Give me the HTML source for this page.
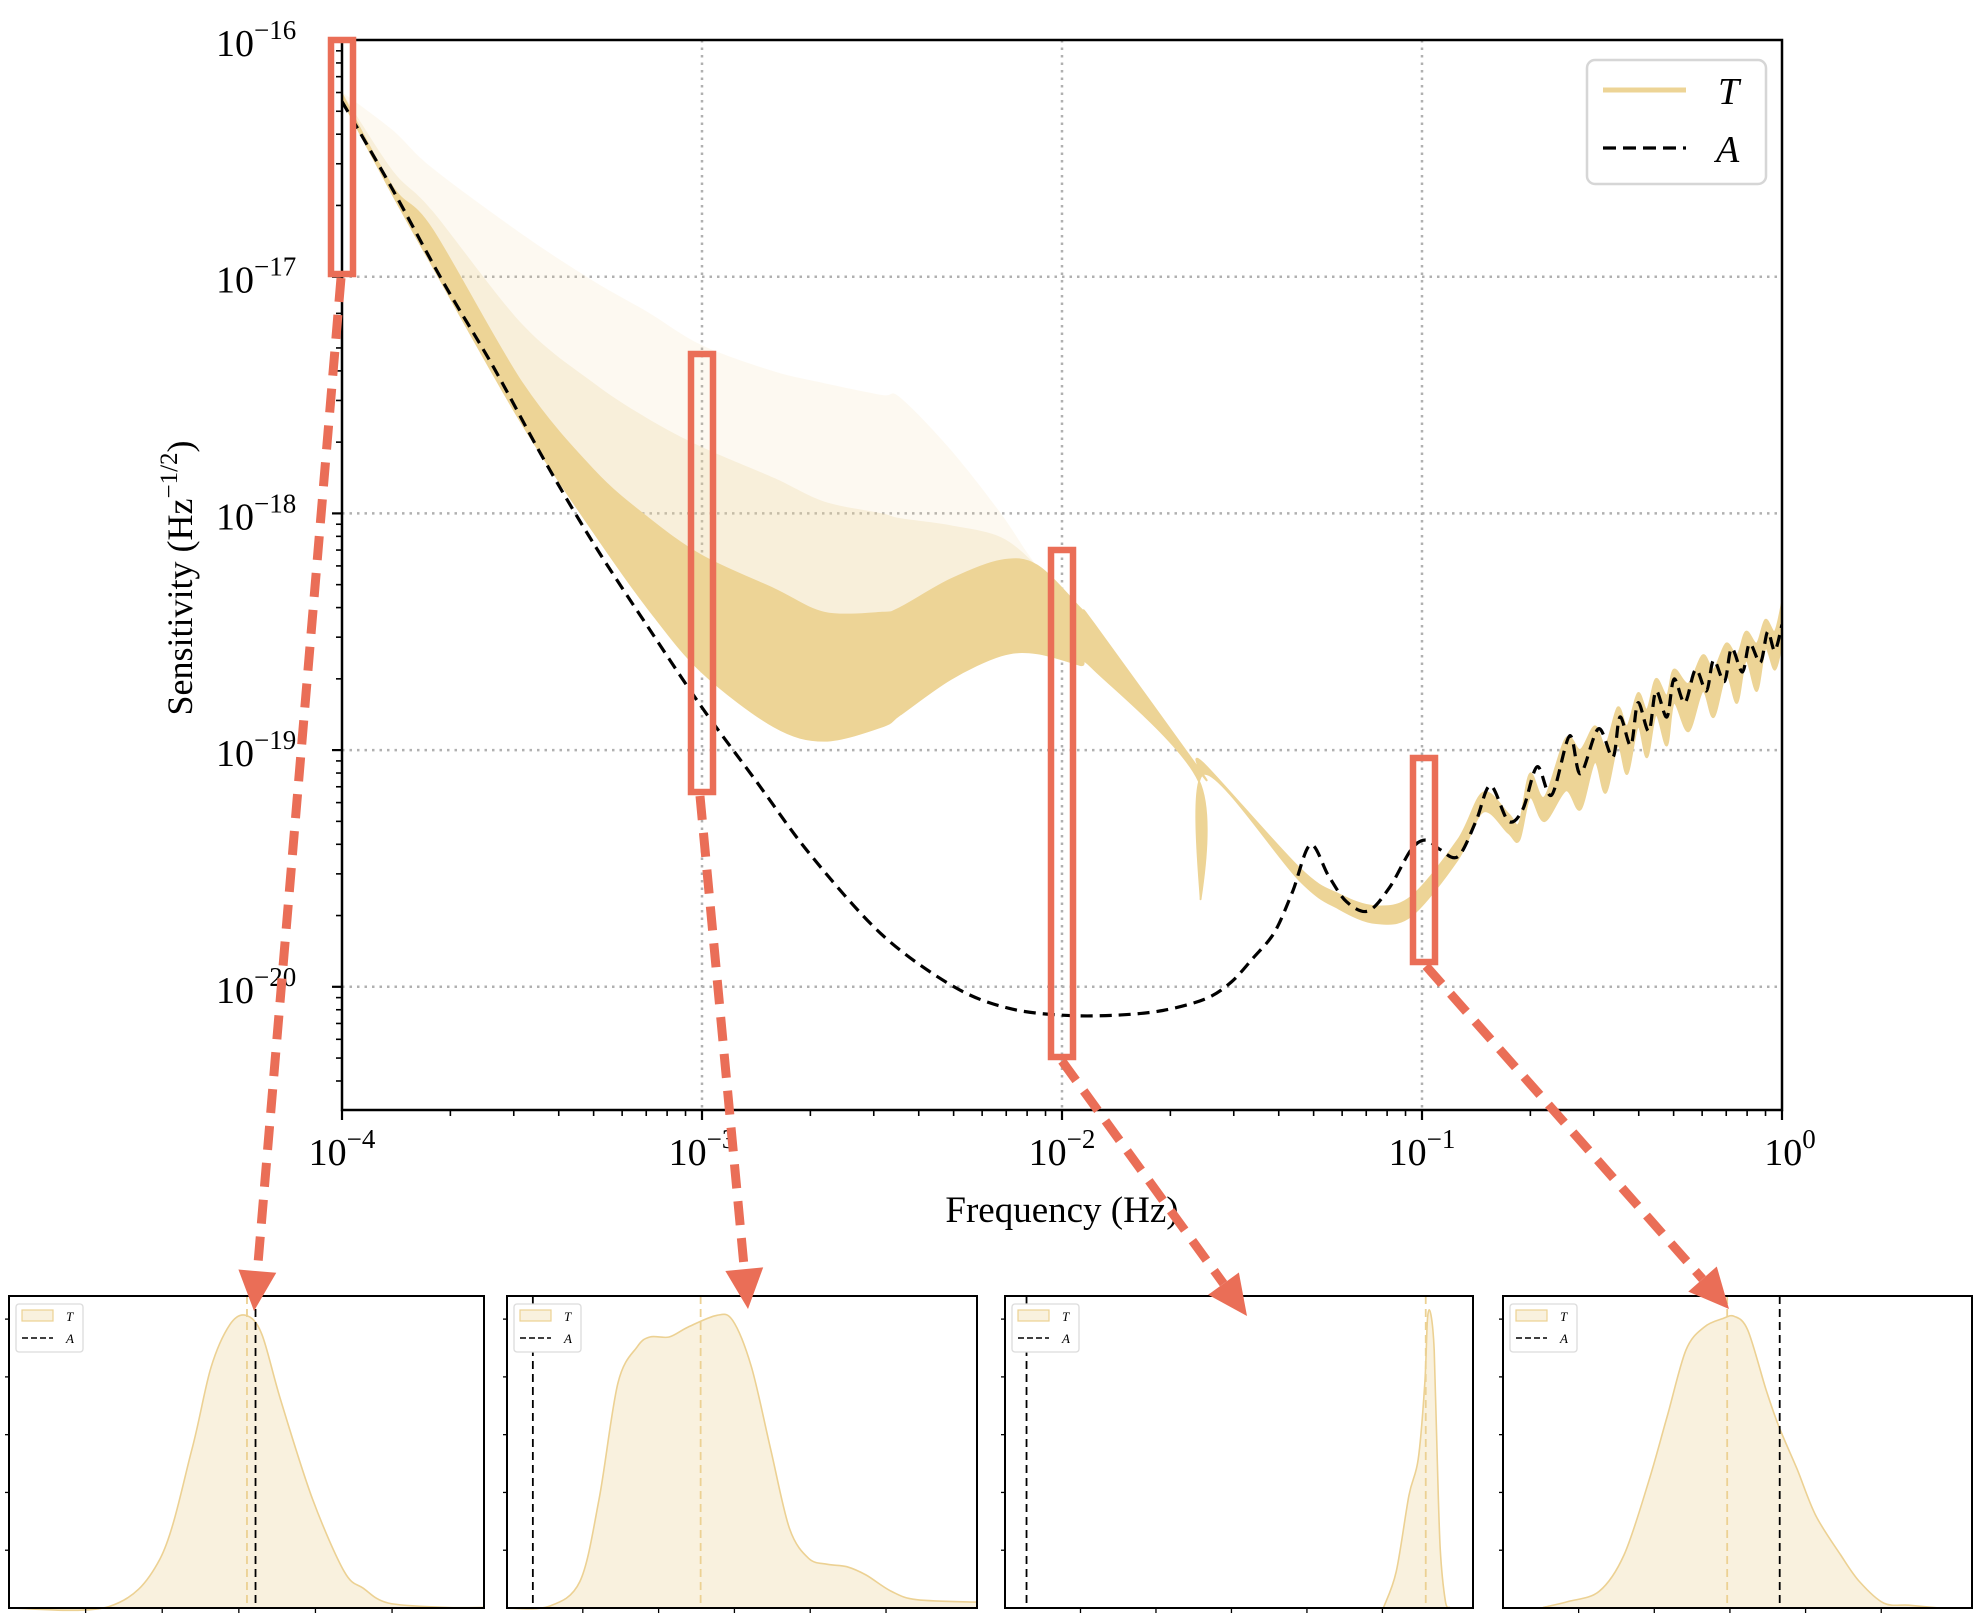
<!DOCTYPE html>
<html><head><meta charset="utf-8"><style>
html,body{margin:0;padding:0;background:#fff;}
svg{display:block;font-family:"Liberation Serif","DejaVu Serif",serif;}
</style></head><body>
<svg id="chart" width="1982" height="1614" viewBox="0 0 1982 1614" xmlns="http://www.w3.org/2000/svg">
<defs><clipPath id="plotclip"><rect x="342" y="40" width="1440" height="1070"/></clipPath></defs>
<g id="main"></g>
<g id="panels"></g>
<g id="annot"></g>
</svg>
<script>
// ---- main chart data (log10 values) ----
const xTickExps = [-4, -3, -2, -1, 0];
const yTickExps = [-16, -17, -18, -19, -20];
const aFreqLog = [-4,-3.86,-3.72,-3.58,-3.44,-3.30,-3.15,-3.0,-2.85,-2.7,-2.5,-2.3,-2.15,-2.0,-1.85,-1.72,-1.6,-1.53,-1.47,-1.41,-1.36,-1.31,-1.26,-1.21,-1.15,-1.09,-1.03,-0.99,-0.95,-0.90,-0.85,-0.81,-0.76,-0.72,-0.68,-0.64,-0.59,-0.56,-0.51,-0.47,-0.45,-0.42,-0.40,-0.37,-0.35,-0.32,-0.30,-0.27,-0.24,-0.21,-0.19,-0.16,-0.14,-0.11,-0.09,-0.06,-0.04,-0.02,0];
const aSensLog = [-16.26,-16.63,-17.02,-17.38,-17.77,-18.13,-18.48,-18.82,-19.13,-19.44,-19.78,-20.0,-20.09,-20.12,-20.12,-20.1,-20.05,-19.98,-19.88,-19.77,-19.6,-19.40,-19.53,-19.64,-19.68,-19.58,-19.42,-19.38,-19.42,-19.45,-19.3,-19.15,-19.30,-19.25,-19.07,-19.19,-18.94,-19.10,-18.91,-19.03,-18.86,-18.98,-18.80,-18.92,-18.75,-18.86,-18.70,-18.80,-18.66,-18.75,-18.62,-18.71,-18.57,-18.67,-18.55,-18.63,-18.5,-18.58,-18.47];
const tFreqLog = [-4,-3.86,-3.75,-3.5,-3.3,-3.15,-3.0,-2.8,-2.66,-2.5,-2.45,-2.31,-2.17,-2.07,-1.95,-1.91,-1.62,-1.615,-1.605,-1.34,-1.23,-1.13,-1.03,-0.90,-0.83,-0.76,-0.73,-0.70,-0.66,-0.60,-0.56,-0.52,-0.49,-0.456,-0.43,-0.40,-0.375,-0.35,-0.32,-0.30,-0.26,-0.22,-0.19,-0.155,-0.125,-0.10,-0.07,-0.046,-0.02,0];
const tUpperLog = [-16.22,-16.38,-16.54,-16.82,-17.02,-17.15,-17.29,-17.40,-17.45,-17.5,-17.51,-17.73,-18.0,-18.22,-18.40,-18.47,-19.08,-19.09,-19.06,-19.50,-19.61,-19.66,-19.62,-19.38,-19.18,-19.27,-19.31,-19.1,-19.2,-18.95,-19.0,-18.9,-18.98,-18.82,-18.90,-18.76,-18.83,-18.7,-18.77,-18.66,-18.72,-18.6,-18.66,-18.55,-18.6,-18.5,-18.55,-18.45,-18.5,-18.38];
const tMedTopLog = [-16.22,-16.55,-16.72,-17.2,-17.45,-17.6,-17.72,-17.85,-17.95,-18.0,-18.02,-18.05,-18.1,-18.22,-18.40,-18.47,-19.08,-19.09,-19.06,-19.50,-19.61,-19.66,-19.62,-19.38,-19.18,-19.27,-19.31,-19.1,-19.2,-18.95,-19.0,-18.9,-18.98,-18.82,-18.90,-18.76,-18.83,-18.7,-18.77,-18.66,-18.72,-18.6,-18.66,-18.55,-18.6,-18.5,-18.55,-18.45,-18.5,-18.38];
const tDenseTopLog = [-16.23,-16.62,-16.80,-17.45,-17.82,-18.02,-18.18,-18.32,-18.42,-18.42,-18.40,-18.28,-18.2,-18.22,-18.40,-18.47,-19.08,-19.09,-19.06,-19.50,-19.61,-19.66,-19.62,-19.38,-19.18,-19.27,-19.31,-19.1,-19.2,-18.95,-19.0,-18.9,-18.98,-18.82,-18.90,-18.76,-18.83,-18.7,-18.77,-18.66,-18.72,-18.6,-18.66,-18.55,-18.6,-18.5,-18.55,-18.45,-18.5,-18.38];
const tLowerLog = [-16.25,-16.65,-16.95,-17.62,-18.08,-18.40,-18.67,-18.90,-18.96,-18.90,-18.85,-18.70,-18.60,-18.59,-18.64,-18.66,-19.13,-19.63,-19.10,-19.55,-19.67,-19.73,-19.70,-19.46,-19.26,-19.35,-19.38,-19.2,-19.3,-19.17,-19.25,-19.05,-19.18,-18.98,-19.10,-18.9,-19.03,-18.85,-18.98,-18.8,-18.92,-18.75,-18.86,-18.68,-18.8,-18.62,-18.75,-18.57,-18.66,-18.55];
// ---- KDE panel data (normalized position u, density d) ----
const kde1U = [0,0.211,0.318,0.385,0.425,0.465,0.499,0.532,0.572,0.639,0.706,0.746,0.799,0.92,1];
const kde1D = [0,0.005,0.16,0.515,0.78,0.92,0.95,0.89,0.675,0.354,0.118,0.064,0.016,0.002,0.002];
const kde2U = [0,0.088,0.155,0.196,0.236,0.277,0.304,0.345,0.385,0.446,0.48,0.52,0.561,0.601,0.642,0.682,0.723,0.764,0.818,0.872,1];
const kde2D = [0,0.005,0.086,0.354,0.73,0.848,0.88,0.88,0.912,0.95,0.934,0.783,0.515,0.258,0.161,0.142,0.134,0.107,0.054,0.027,0.019];
const kde3U = [0.809,0.836,0.863,0.883,0.897,0.903,0.91,0.917,0.923,0.93,0.941,0.95];
const kde3D = [0.002,0.118,0.365,0.483,0.73,0.944,0.953,0.837,0.515,0.193,0.022,0.002];
const kde4U = [0.086,0.139,0.205,0.258,0.31,0.35,0.39,0.429,0.469,0.493,0.522,0.561,0.588,0.627,0.667,0.72,0.76,0.812,0.865,0.931];
const kde4D = [0.002,0.021,0.054,0.172,0.408,0.622,0.837,0.912,0.94,0.947,0.902,0.708,0.59,0.451,0.3,0.172,0.086,0.016,0.009,0];
const meanT = [0.501, 0.412, 0.899, 0.478];
const valA = [0.519, 0.055, 0.046, 0.59];

const NS = "http://www.w3.org/2000/svg";
function mk(tag, attrs, parent){const e=document.createElementNS(NS,tag);for(const k in attrs)e.setAttribute(k,attrs[k]);parent.appendChild(e);return e;}
// smooth path through points (catmull-rom -> bezier)
function smooth(pts, start){
  let d=(start?'M':'L')+pts[0][0].toFixed(1)+','+pts[0][1].toFixed(1);
  for(let i=0;i<pts.length-1;i++){
    const p0=pts[Math.max(0,i-1)],p1=pts[i],p2=pts[i+1],p3=pts[Math.min(pts.length-1,i+2)];
    const t=0.16;
    const c1=[p1[0]+(p2[0]-p0[0])*t,p1[1]+(p2[1]-p0[1])*t];
    const c2=[p2[0]-(p3[0]-p1[0])*t,p2[1]-(p3[1]-p1[1])*t];
    d+='C'+c1[0].toFixed(1)+','+c1[1].toFixed(1)+' '+c2[0].toFixed(1)+','+c2[1].toFixed(1)+' '+p2[0].toFixed(1)+','+p2[1].toFixed(1);
  }
  return d;
}
const L=342,R=1782,T=40,B=1110;
const xs = lf => L + (lf + 4) * 360;
const ys = lg => T + (-16 - lg) * 236.7;
const main = document.getElementById('main');

const bg = mk('rect',{x:L,y:T,width:R-L,height:B-T,fill:'#fff'},main);



xTickExps.forEach(e=>{ if(e>-4&&e<0){ const g=mk('line',{x1:xs(e),x2:xs(e),y1:T,y2:B,stroke:'#b0b0b0','stroke-width':2.5,'stroke-dasharray':'2.5,5'},main);
  }});
yTickExps.forEach(e=>{ if(e<-16){ const g=mk('line',{x1:L,x2:R,y1:ys(e),y2:ys(e),stroke:'#b0b0b0','stroke-width':2.5,'stroke-dasharray':'2.5,5'},main);
  }});

function bandPath(top, bot){
  const tp=tFreqLog.map((f,i)=>[xs(f),ys(top[i])]);
  const bp=tFreqLog.map((f,i)=>[xs(f),ys(bot[i])]).reverse();
  return smooth(tp,true)+smooth(bp,false)+'Z';
}
const gT = mk('g',{'clip-path':'url(#plotclip)'},main);


const p1 = mk('path',{d:bandPath(tUpperLog,tLowerLog),fill:'#edd496','fill-opacity':0.13},gT);
 
const p2 = mk('path',{d:bandPath(tMedTopLog,tLowerLog),fill:'#edd496','fill-opacity':0.25},gT);
 
const p3 = mk('path',{d:bandPath(tDenseTopLog,tLowerLog),fill:'#edd496','fill-opacity':1,stroke:'#edd496','stroke-width':2},gT);
 

const aPts=aFreqLog.map((f,i)=>[xs(f),ys(aSensLog[i])]);
const aLine = mk('path',{d:smooth(aPts,true),fill:'none',stroke:'#000','stroke-width':3.2,'stroke-dasharray':'12,7','clip-path':'url(#plotclip)'},main);
 

const fr = mk('rect',{x:L,y:T,width:R-L,height:B-T,fill:'none',stroke:'#000','stroke-width':2.5},main);
 

xTickExps.forEach(e=>{
  const t=mk('line',{x1:xs(e),x2:xs(e),y1:B,y2:B+10,stroke:'#000','stroke-width':2.2},main);
   
  const tx=mk('text',{x:xs(e)+(e===0?8:0),y:B+55,'text-anchor':'middle','font-size':38},main);
   
  tx.appendChild(document.createTextNode('10'));
  const s=mk('tspan',{'font-size':27,dy:-17},tx); s.textContent=(e<0?'\u2212':'')+Math.abs(e);
  if(e<0){ for(let m=2;m<=9;m++){ const x=xs(e+Math.log10(m));
    const mt=mk('line',{x1:x,x2:x,y1:B,y2:B+6,stroke:'#000','stroke-width':1.6},main);
     }}
});
yTickExps.forEach(e=>{
  const t=mk('line',{x1:L-10,x2:L,y1:ys(e),y2:ys(e),stroke:'#000','stroke-width':2.2},main);
   
  const tx=mk('text',{x:L-126,y:ys(e)+16,'text-anchor':'start','font-size':38},main);
   
  tx.appendChild(document.createTextNode('10'));
  const s=mk('tspan',{'font-size':27,dy:-17},tx); s.textContent='\u2212'+Math.abs(e);
  for(let m=2;m<=9;m++){ const y=ys(e-1+Math.log10(m)); if(y>T&&y<B){
    const mt=mk('line',{x1:L-6,x2:L,y1:y,y2:y,stroke:'#000','stroke-width':1.6},main);
     }}
});
const xl=mk('text',{x:1062,y:1222,'text-anchor':'middle','font-size':37},main);
 
xl.textContent='Frequency (Hz)';
const yl=mk('text',{x:0,y:0,'text-anchor':'middle','font-size':36,transform:'translate(192,578) rotate(-90)'},main);
 
yl.appendChild(document.createTextNode('Sensitivity (Hz'));
const ysup=mk('tspan',{'font-size':25,dy:-15},yl); ysup.textContent='\u22121/2';
const yclose=mk('tspan',{dy:15},yl); yclose.textContent=')';

const lg=mk('g',{},main);
 
mk('rect',{x:1587,y:60,width:179,height:124,rx:8,fill:'#fff',stroke:'#d6d6d6','stroke-width':2.5},lg);
const le1=mk('line',{x1:1603,x2:1686,y1:90,y2:90,stroke:'#edd496','stroke-width':5},lg);
 
const lt1=mk('text',{x:1718,y:104,'font-size':38,'font-style':'italic'},lg); lt1.textContent='T';
 
const le2=mk('line',{x1:1603,x2:1686,y1:148,y2:148,stroke:'#000','stroke-width':3.2,'stroke-dasharray':'13,7'},lg);
 
const lt2=mk('text',{x:1716,y:162,'font-size':38,'font-style':'italic'},lg); lt2.textContent='A';
 

const panels=document.getElementById('panels');
const pBoxes=[[9,484],[507,977],[1005,1473],[1503,1972]];
const pTop=1296,pBot=1608;
const kdeU=[kde1U,kde2U,kde3U,kde4U], kdeD=[kde1D,kde2D,kde3D,kde4D];
pBoxes.forEach((b,i)=>{
  const g=mk('g',{},panels);
  
  
  const w=b[1]-b[0], h=pBot-pTop;
  const px=u=>b[0]+u*w, py=d=>pBot-d*(h-4);
  const pts=kdeU[i].map((u,j)=>[px(u),py(kdeD[i][j])]);
  let d='M'+px(kdeU[i][0])+','+pBot+smooth(pts,false)+'L'+px(kdeU[i][kdeU[i].length-1])+','+pBot+'Z';
  const area=mk('path',{d:d,fill:'#f9f1de',stroke:'#ecd193','stroke-width':1.6,'stroke-linejoin':'round'},g);
   
  const mT=mk('line',{x1:px(meanT[i]),x2:px(meanT[i]),y1:pTop,y2:pBot,stroke:'#ecd193','stroke-width':1.8,'stroke-dasharray':'8,5'},g);
   
  const vA=mk('line',{x1:px(valA[i]),x2:px(valA[i]),y1:pTop,y2:pBot,stroke:'#000','stroke-width':1.8,'stroke-dasharray':'8,5'},g);
   
  mk('rect',{x:b[0],y:pTop,width:w,height:h,fill:'none',stroke:'#000','stroke-width':2},g);
  for(let k=1;k<6;k++){ const tx=b[0]+k*w/6.2;
    const t=mk('line',{x1:tx,x2:tx,y1:pBot,y2:pBot+5,stroke:'#000','stroke-width':1.3},g);
     }
  for(let k=1;k<6;k++){ const ty=pBot-k*h/5.4;
    const t=mk('line',{x1:b[0]-4,x2:b[0],y1:ty,y2:ty,stroke:'#000','stroke-width':1.3},g);
     }
  const lgp=mk('g',{},g);
   
  mk('rect',{x:b[0]+7,y:1304,width:67,height:48,rx:3,fill:'#fff',stroke:'#dcdcdc','stroke-width':1.3},lgp);
  mk('rect',{x:b[0]+13,y:1310,width:31,height:11,fill:'#f9f1de',stroke:'#ecd193','stroke-width':1.2},lgp);
  mk('line',{x1:b[0]+13,x2:b[0]+44,y1:1338,y2:1338,stroke:'#000','stroke-width':1.6,'stroke-dasharray':'6,3'},lgp);
  const a1=mk('text',{x:b[0]+57,y:1321,'font-size':13,'font-style':'italic'},lgp); a1.textContent='T';
  const a2=mk('text',{x:b[0]+57,y:1343,'font-size':13,'font-style':'italic'},lgp); a2.textContent='A';
});

const an=document.getElementById('annot');
const RED='#ea6e57';
const boxes=[[331,40,22,234],[691,354,22,438],[1051,550,22,507],[1413,758,22,204]];
boxes.forEach((bx,i)=>{
  const r=mk('rect',{x:bx[0],y:bx[1],width:bx[2],height:bx[3],fill:'none',stroke:RED,'stroke-width':6.5},an);
   
});
const arrows=[[341,278,254,1311],[700,796,748,1309],[1062,1061,1247,1316],[1426,966,1729,1309]];
arrows.forEach((a,i)=>{
  const dx=a[2]-a[0], dy=a[3]-a[1], len=Math.hypot(dx,dy), ux=dx/len, uy=dy/len;
  const hl=40, hw=19;
  const bxp=a[2]-ux*hl, byp=a[3]-uy*hl;
  const ln=mk('line',{x1:a[0],y1:a[1],x2:bxp,y2:byp,stroke:RED,'stroke-width':9,'stroke-dasharray':'24,13'},an);
   
  const hd=mk('polygon',{points:`${a[2]},${a[3]} ${bxp-uy*hw},${byp+ux*hw} ${bxp+uy*hw},${byp-ux*hw}`,fill:RED},an);
   
});
</script>
</body></html>
